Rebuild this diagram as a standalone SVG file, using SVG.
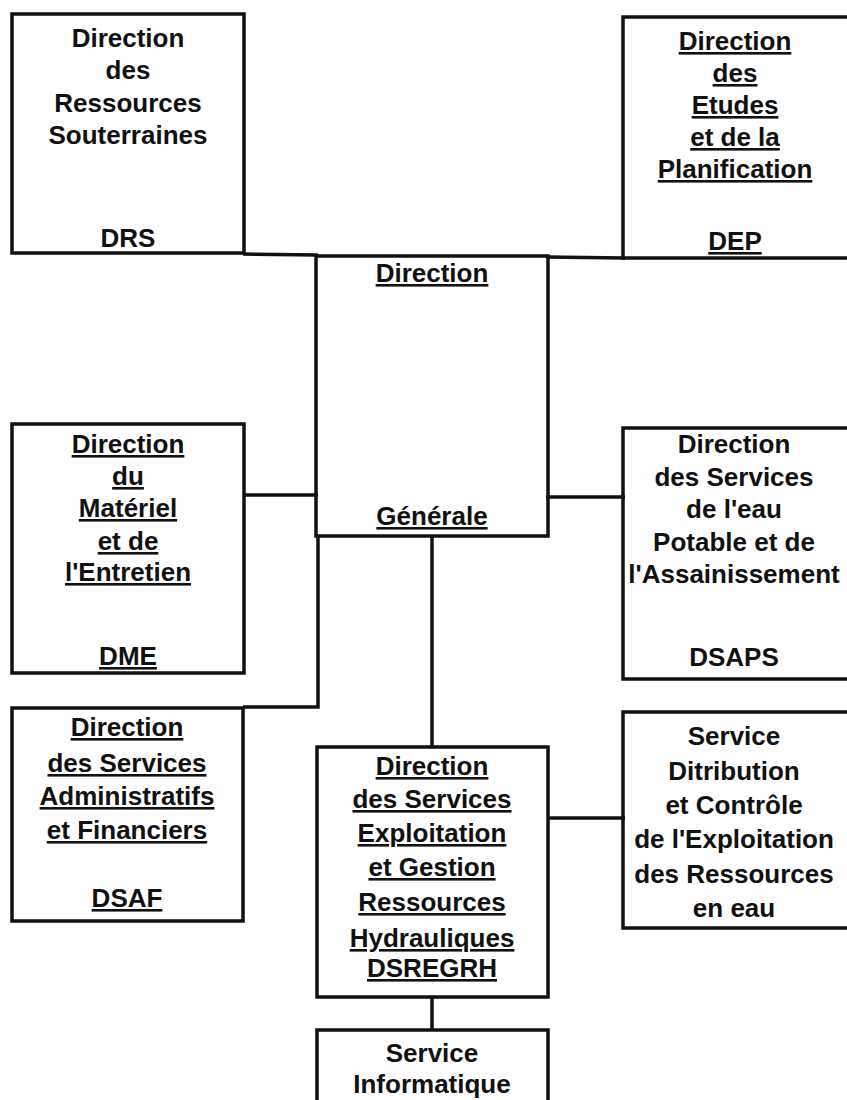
<svg xmlns="http://www.w3.org/2000/svg" width="847" height="1100" viewBox="0 0 847 1100">
<style>
.box{fill:none;stroke:#111;stroke-width:3.5}
.con{fill:none;stroke:#111;stroke-width:3.5}
text{font-family:"Liberation Sans",Arial,sans-serif;font-weight:bold;font-size:26px;fill:#111;text-anchor:middle}
.u{text-decoration:underline;text-decoration-thickness:3px;text-underline-offset:4px}
</style>
<rect width="847" height="1100" fill="#fff"/>
<g id="connectors">
<line class="con" x1="243" y1="254" x2="318" y2="255"/>
<line class="con" x1="546" y1="257" x2="625" y2="258"/>
<line class="con" x1="243" y1="495" x2="318" y2="495"/>
<line class="con" x1="546" y1="497" x2="625" y2="497"/>
<polyline class="con" points="318,536 318,707 243,707"/>
<line class="con" x1="432" y1="536" x2="432" y2="747"/>
<line class="con" x1="547" y1="818" x2="625" y2="818"/>
<line class="con" x1="432" y1="997" x2="432" y2="1030"/>
</g>
<g id="DRS">
<rect class="box" x="12" y="14" width="232" height="239"/>
<text x="128" y="47">Direction</text>
<text x="128" y="79">des</text>
<text x="128" y="112">Ressources</text>
<text x="128" y="144">Souterraines</text>
<text x="128" y="247">DRS</text>
</g>
<g id="DEP">
<rect class="box" x="623" y="17" width="240" height="241"/>
<text class="u" x="735" y="50">Direction</text>
<text class="u" x="735" y="82">des</text>
<text class="u" x="735" y="114">Etudes</text>
<text class="u" x="735" y="146">et de la</text>
<text class="u" x="735" y="178">Planification</text>
<text class="u" x="735" y="250">DEP</text>
</g>
<g id="DG">
<rect class="box" x="316" y="256" width="232" height="280"/>
<text class="u" x="432" y="282">Direction</text>
<text class="u" x="432" y="525">Générale</text>
</g>
<g id="DME">
<rect class="box" x="12" y="424" width="232" height="249"/>
<text class="u" x="128" y="453">Direction</text>
<text class="u" x="128" y="485">du</text>
<text class="u" x="128" y="517">Matériel</text>
<text class="u" x="128" y="550">et de</text>
<text class="u" x="128" y="581">l'Entretien</text>
<text class="u" x="128" y="665">DME</text>
</g>
<g id="DSAPS">
<rect class="box" x="623" y="428" width="240" height="251"/>
<text x="734" y="453">Direction</text>
<text x="734" y="486">des Services</text>
<text x="734" y="518">de l'eau</text>
<text x="734" y="551">Potable et de</text>
<text x="734" y="583">l'Assainissement</text>
<text x="734" y="666">DSAPS</text>
</g>
<g id="DSAF">
<rect class="box" x="12" y="708" width="231" height="213"/>
<text class="u" x="127" y="736">Direction</text>
<text class="u" x="127" y="772">des Services</text>
<text class="u" x="127" y="805">Administratifs</text>
<text class="u" x="127" y="839">et Financiers</text>
<text class="u" x="127" y="907">DSAF</text>
</g>
<g id="DSREGRH">
<rect class="box" x="317" y="747" width="231" height="250"/>
<text class="u" x="432" y="775">Direction</text>
<text class="u" x="432" y="808">des Services</text>
<text class="u" x="432" y="842">Exploitation</text>
<text class="u" x="432" y="876">et Gestion</text>
<text class="u" x="432" y="911">Ressources</text>
<text class="u" x="432" y="947">Hydrauliques</text>
<text class="u" x="432" y="977">DSREGRH</text>
</g>
<g id="SDCE">
<rect class="box" x="623" y="712" width="240" height="216"/>
<text x="734" y="745">Service</text>
<text x="734" y="780">Ditribution</text>
<text x="734" y="814">et Contrôle</text>
<text x="734" y="848">de l'Exploitation</text>
<text x="734" y="883">des Ressources</text>
<text x="734" y="917">en eau</text>
</g>
<g id="SI">
<rect class="box" x="317" y="1030" width="231" height="90"/>
<text x="432" y="1062">Service</text>
<text x="432" y="1093">Informatique</text>
</g>
</svg>
